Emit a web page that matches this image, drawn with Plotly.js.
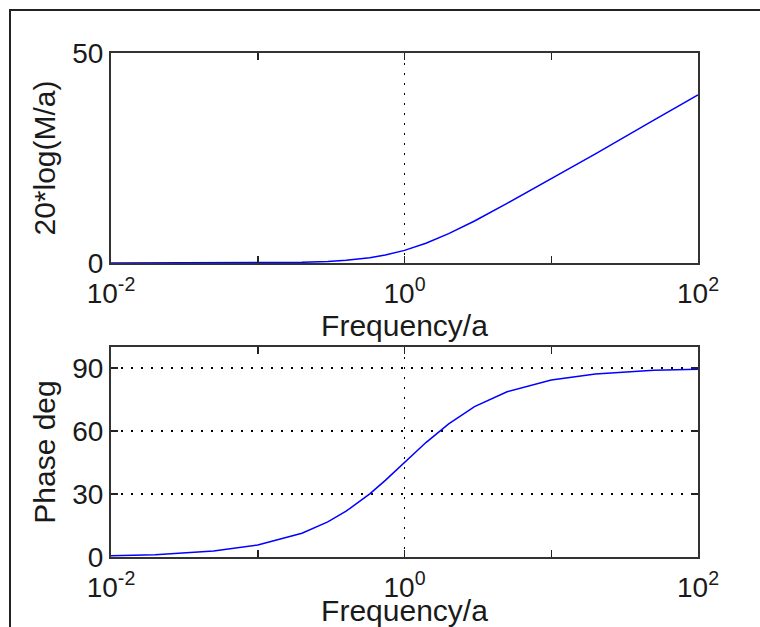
<!DOCTYPE html>
<html>
<head>
<meta charset="utf-8">
<script src="https://cdn.plot.ly/plotly-3.0.1.min.js"></script>
<style>
  html, body { margin: 0; padding: 0; background: #fff; }
  #wrap { position: relative; width: 760px; height: 627px; overflow: hidden; }
  #chart { position: absolute; left: 0; top: 0; width: 760px; height: 627px; }
  #frame { position: absolute; left: 9px; top: 9px; width: 800px; height: 700px;
           border-top: 2px solid #222; border-left: 2px solid #222; pointer-events: none; }
</style>
</head>
<body>
<div id="wrap">
  <div id="chart"></div>
  <div id="frame"></div>
</div>
<script>
// Frequency (normalised, w/a)
const freq = [0.01, 0.02, 0.05, 0.1, 0.2, 0.3, 0.4, 0.58, 0.74, 1, 1.4, 2, 3, 5, 10, 20, 50, 100];
// Magnitude, 20*log(M/a) in dB
const magDb = [0, 0, 0.01, 0.04, 0.17, 0.37, 0.64, 1.25, 1.9, 3.0, 4.7, 7.0, 10.0, 14.2, 20.0, 26.0, 34.0, 40.0];
// Phase in degrees
const phaseDeg = [0.6, 1.1, 2.9, 5.7, 11.3, 16.7, 21.8, 30.1, 36.5, 45, 54.5, 63.4, 71.6, 78.7, 84.3, 87.1, 88.9, 89.4];

const xTickVals = [0.01, 1, 100];
const xTickText = ['10<sup>-2</sup>', '10<sup>0</sup>', '10<sup>2</sup>'];
const xMinorVals = [0.1, 10];
const magTicks = [0, 50];
const phaseTicks = [0, 30, 60, 90];

const W = 760, H = 627;
const FONT = 'Liberation Sans, Arial, sans-serif';
const TXT = '#1a1a1a';
const dom = (a, b) => [a / W, b / W];
const vdom = (top, bot) => [1 - bot / H, 1 - top / H];

const common = {
  showline: true, linecolor: '#333', linewidth: 2, mirror: 'ticks',
  ticks: 'inside', ticklen: 7, tickcolor: '#222', tickwidth: 1.5,
  zeroline: false, automargin: false,
  tickfont: { family: FONT, size: 28, color: TXT },
  gridcolor: '#000', gridwidth: 1.5, griddash: '1.5px,8.5px'
};

const xax = (anchor) => Object.assign({}, common, {
  type: 'log', range: [-2, 2], domain: dom(111, 698), anchor: anchor,
  tickmode: 'array', tickvals: xTickVals, ticktext: xTickText, showgrid: true,
  ticklabelstandoff: 4,
  minor: { tickmode: 'array', tickvals: xMinorVals, ticks: 'inside', ticklen: 7, tickcolor: '#222', tickwidth: 1.5, showgrid: false },
  title: { text: 'Frequency/a', font: { family: FONT, size: 30, color: TXT }, standoff: 3 }
});

const layout = {
  width: W, height: H,
  margin: { l: 0, r: 0, t: 0, b: 0 },
  paper_bgcolor: '#fff', plot_bgcolor: '#fff',
  showlegend: false,
  xaxis: xax('y'),
  yaxis: Object.assign({}, common, {
    range: [0, 50], domain: vdom(53, 263), anchor: 'x',
    tickmode: 'array', tickvals: magTicks, showgrid: false,
    title: { text: '20*log(M/a)', font: { family: FONT, size: 30, color: TXT }, standoff: 8 }
  }),
  xaxis2: xax('y2'),
  yaxis2: Object.assign({}, common, {
    range: [0, 100], domain: vdom(347, 557), anchor: 'x2',
    tickmode: 'array', tickvals: phaseTicks, showgrid: true,
    title: { text: 'Phase deg', font: { family: FONT, size: 30, color: TXT }, standoff: 8 }
  })
};

const traces = [
  { x: freq, y: magDb, xaxis: 'x', yaxis: 'y', type: 'scatter', mode: 'lines',
    line: { color: '#0000ff', width: 1.5 } },
  { x: freq, y: phaseDeg, xaxis: 'x2', yaxis: 'y2', type: 'scatter', mode: 'lines',
    line: { color: '#0000ff', width: 1.5 } }
];

Plotly.newPlot('chart', traces, layout, { staticPlot: true, displayModeBar: false });
</script>
</body>
</html>
